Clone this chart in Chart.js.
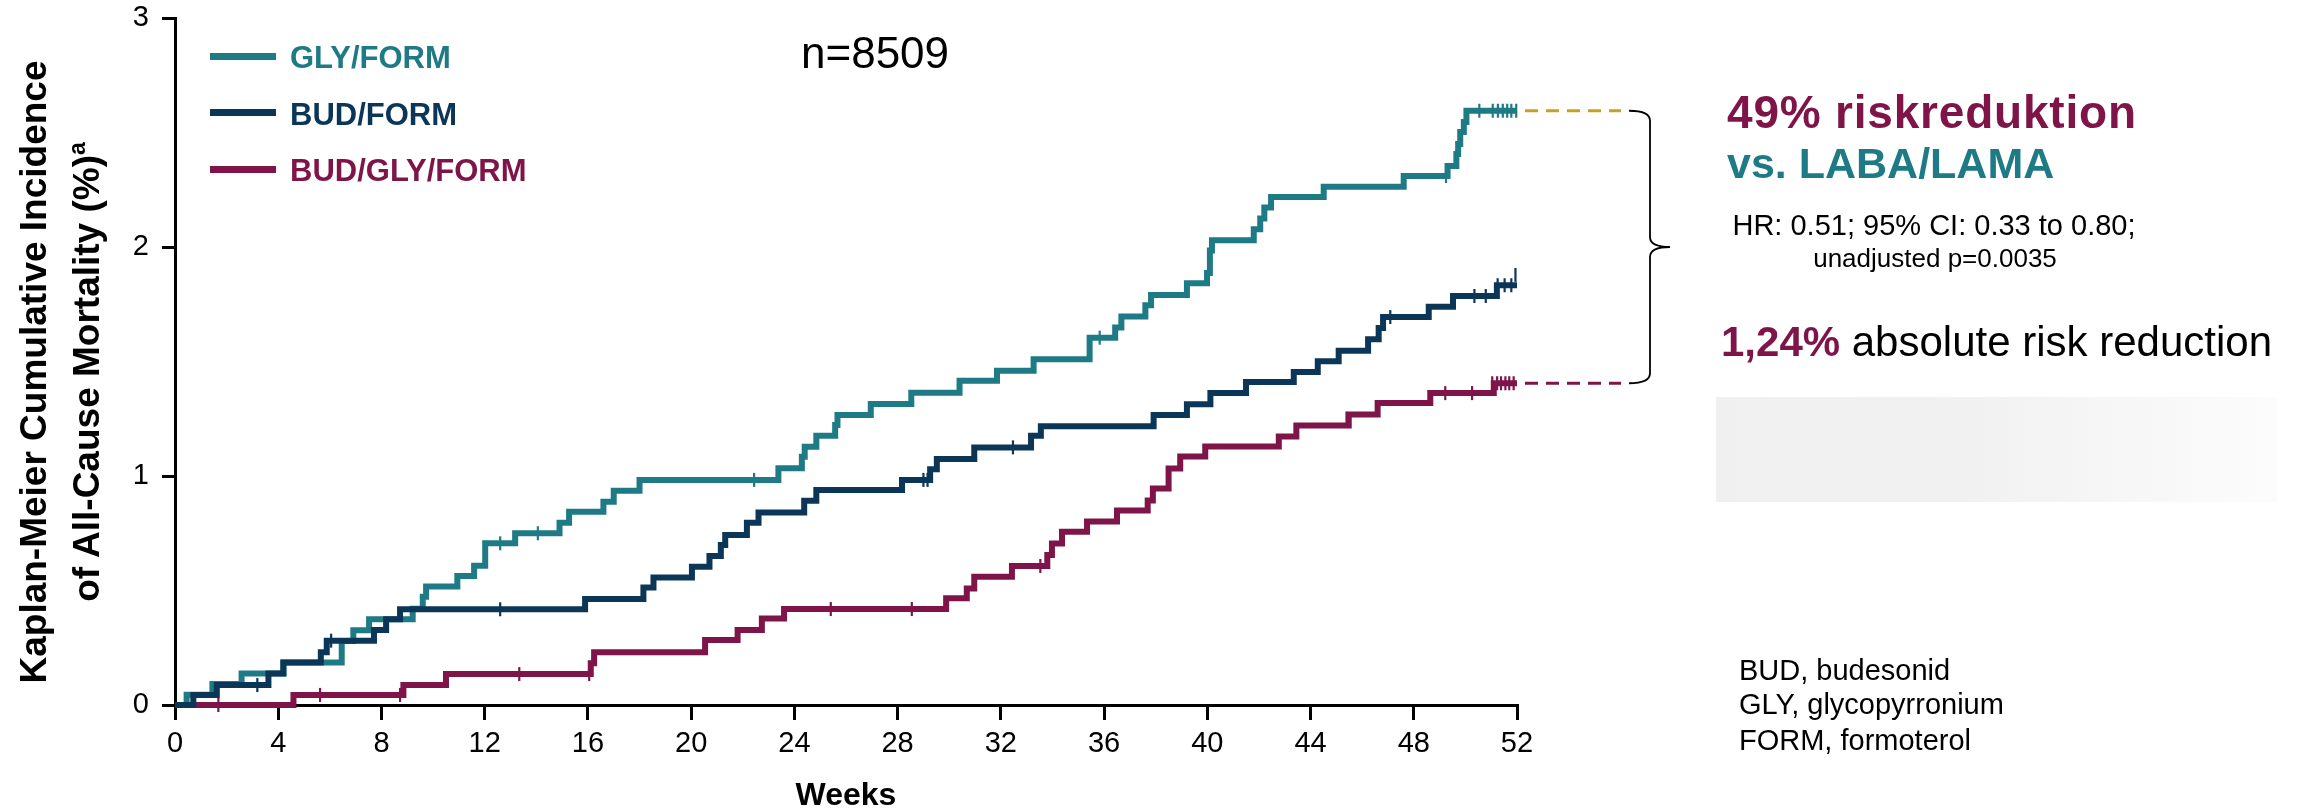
<!DOCTYPE html>
<html>
<head>
<meta charset="utf-8">
<script src="https://cdn.jsdelivr.net/npm/chart.js@4/dist/chart.umd.min.js"></script>
<style>
  html, body { margin:0; padding:0; background:#fff; }
  #wrap { position:relative; width:2310px; height:812px; overflow:hidden; font-family:'Liberation Sans', Arial, sans-serif; }
  #c { position:absolute; left:0; top:0; }
  .t { position:absolute; white-space:nowrap; line-height:1; }
  .leg { position:absolute; height:7px; }
  #ytitle { position:absolute; left:-320px; top:319px; width:760px; height:106px; line-height:53px; font-size:37px; font-weight:bold; text-align:center; transform:rotate(-90deg); color:#000; white-space:nowrap; }
  #ytitle sup { font-size:23px; line-height:0; vertical-align:0.6em; }
  #grad { position:absolute; left:1716px; top:397px; width:561px; height:105px; background:linear-gradient(to right, #f0f0f0 0%, #f1f1f1 45%, #fcfcfc 100%); }
</style>
</head>
<body>
<div id="wrap">
  <canvas id="c" width="2310" height="812"></canvas>

  <div id="ytitle">Kaplan-Meier Cumulative Incidence<br>of All-Cause Mortality (%)<sup>a</sup></div>

  <div class="leg" style="left:210px; top:52.5px; width:66px; background:#1e7b86;"></div>
  <div class="leg" style="left:210px; top:109px; width:66px; background:#0c3658;"></div>
  <div class="leg" style="left:210px; top:165.5px; width:66px; background:#7e1447;"></div>
  <div class="t" style="left:290px; top:41.8px; font-size:31px; font-weight:bold; color:#1e7b86;">GLY/FORM</div>
  <div class="t" style="left:290px; top:98.8px; font-size:31px; font-weight:bold; color:#0c3658;">BUD/FORM</div>
  <div class="t" style="left:290px; top:155.3px; font-size:31px; font-weight:bold; color:#7e1447;">BUD/GLY/FORM</div>

  <div class="t" style="left:801px; top:30.8px; font-size:44px; color:#000;">n=8509</div>

  <div class="t" style="left:1727px; top:89.1px; font-size:46px; font-weight:bold; letter-spacing:0.8px; color:#7e1447;">49% riskreduktion</div>
  <div class="t" style="left:1727px; top:141.6px; font-size:43px; font-weight:bold; color:#1e7b86;">vs. LABA/LAMA</div>
  <div class="t" style="left:1534px; width:800px; text-align:center; top:210.5px; font-size:29px; color:#000;">HR: 0.51; 95% CI: 0.33 to 0.80;</div>
  <div class="t" style="left:1535px; width:800px; text-align:center; top:245px; font-size:26px; color:#000;">unadjusted p=0.0035</div>
  <div class="t" style="left:1721px; top:321.4px; font-size:42px; color:#000;"><span style="font-weight:bold; color:#7e1447;">1,24%</span> absolute risk reduction</div>
  <div id="grad"></div>
  <div class="t" style="left:1739px; top:655.5px; font-size:29px; color:#000;">BUD, budesonid</div>
  <div class="t" style="left:1739px; top:690px; font-size:29px; color:#000;">GLY, glycopyrronium</div>
  <div class="t" style="left:1739px; top:725.5px; font-size:29px; color:#000;">FORM, formoterol</div>
</div>
<script>
// ---- Data ----
const seriesNames = ['GLY/FORM', 'BUD/FORM', 'BUD/GLY/FORM'];
const weekTicks = [0, 4, 8, 12, 16, 20, 24, 28, 32, 36, 40, 44, 48, 52];
const riskTicks = [0, 1, 2, 3];

const glyFormWeeks = [0, 0.45, 1.45, 2.58, 4.2, 6.46, 6.91, 7.52, 9.21, 9.6, 9.73, 10.94, 11.59, 12.02, 13.18, 14.9, 15.27, 16.6, 17.0, 18.0, 23.38, 24.29, 24.4, 24.85, 25.58, 25.67, 26.96, 28.53, 30.4, 31.85, 33.27, 35.44, 36.43, 36.67, 37.6, 37.82, 39.21, 39.99, 40.1, 40.18, 41.8, 42.05, 42.21, 42.47, 44.51, 47.61, 49.31, 49.65, 49.72, 49.8, 49.94, 50.04, 52];
const glyFormRisk  = [0, 0.045, 0.092, 0.138, 0.186, 0.28, 0.326, 0.375, 0.42, 0.473, 0.517, 0.563, 0.608, 0.706, 0.75, 0.796, 0.844, 0.888, 0.936, 0.983, 1.034, 1.084, 1.128, 1.176, 1.223, 1.266, 1.314, 1.364, 1.416, 1.46, 1.51, 1.604, 1.648, 1.697, 1.746, 1.79, 1.842, 1.886, 1.985, 2.029, 2.078, 2.125, 2.172, 2.218, 2.263, 2.31, 2.354, 2.406, 2.45, 2.502, 2.546, 2.595, 2.595];

const budFormWeeks = [0, 0.71, 1.62, 3.62, 4.2, 5.65, 5.88, 7.71, 8.18, 8.72, 15.89, 18.15, 18.54, 20.03, 20.71, 21.15, 21.32, 22.16, 22.61, 24.38, 24.85, 28.17, 29.26, 29.52, 30.97, 33.17, 33.55, 37.92, 39.21, 40.12, 41.5, 43.35, 44.28, 45.09, 46.23, 46.64, 46.81, 48.58, 49.52, 51.22, 52];
const budFormRisk  = [0, 0.044, 0.087, 0.138, 0.186, 0.23, 0.281, 0.328, 0.375, 0.418, 0.463, 0.513, 0.557, 0.604, 0.651, 0.699, 0.742, 0.796, 0.841, 0.892, 0.939, 0.983, 1.03, 1.074, 1.125, 1.176, 1.217, 1.266, 1.313, 1.362, 1.41, 1.454, 1.501, 1.547, 1.597, 1.646, 1.694, 1.739, 1.786, 1.833, 1.833];

const budGlyFormWeeks = [0, 4.59, 8.85, 10.5, 16.11, 16.24, 20.54, 21.8, 22.74, 23.6, 29.88, 30.68, 30.97, 32.43, 33.8, 33.98, 34.37, 35.34, 36.5, 37.69, 37.89, 38.5, 38.95, 39.92, 42.77, 43.45, 45.48, 46.6, 48.64, 51.1, 52];
const budGlyFormRisk  = [0, 0.044, 0.087, 0.135, 0.182, 0.23, 0.284, 0.328, 0.378, 0.419, 0.466, 0.509, 0.56, 0.607, 0.655, 0.705, 0.757, 0.801, 0.849, 0.893, 0.945, 1.033, 1.085, 1.129, 1.173, 1.221, 1.269, 1.319, 1.362, 1.405, 1.405];

// censored observations (tick marks)
const glyFormCensorWeeks = [12.6, 14.06, 22.44, 35.83, 49.25, 50.54, 51.06, 51.26, 51.45, 51.62, 51.78, 51.97];
const glyFormCensorRisk  = [0.706, 0.75, 0.983, 1.604, 2.31, 2.595, 2.595, 2.595, 2.595, 2.595, 2.595, 2.595];
const budFormCensorWeeks = [3.19, 6.05, 12.6, 29.0, 29.16, 32.47, 47.09, 50.35, 50.79, 51.25, 51.52, 51.78, 51.94];
const budFormCensorRisk  = [0.087, 0.281, 0.418, 0.983, 0.983, 1.125, 1.694, 1.786, 1.786, 1.833, 1.833, 1.833, 1.878];
const budGlyFormCensorWeeks = [1.68, 5.62, 8.72, 13.34, 16.05, 25.41, 28.55, 33.53, 45.4, 49.22, 50.26, 51.04, 51.23, 51.38, 51.55, 51.7, 51.87];
const budGlyFormCensorRisk  = [0, 0.044, 0.044, 0.135, 0.135, 0.419, 0.419, 0.607, 1.25, 1.362, 1.362, 1.405, 1.405, 1.405, 1.405, 1.405, 1.405];

// ---- Styles ----
const TEAL = '#1e7b86', NAVY = '#0c3658', MAGENTA = '#7e1447', GOLD = '#c9a024';

const pts = (xs, ys) => xs.map((x, i) => ({x, y: ys[i]}));

function stepSet(label, xs, ys, color, order) {
  return { label, data: pts(xs, ys), borderColor: color, backgroundColor: color, borderWidth: 6,
           stepped: 'before', pointRadius: 0, fill: false, order, clip: false,
           borderCapStyle: 'butt', borderJoinStyle: 'miter' };
}
function censorSet(label, xs, ys, color) {
  return { label, data: pts(xs, ys), showLine: false, borderColor: color, backgroundColor: color,
           pointStyle: 'line', rotation: 90, pointRadius: 7, pointBorderWidth: 2.2, pointHoverRadius: 7,
           order: 0, clip: false };
}

const bracePlugin = {
  id: 'brace',
  afterDatasetsDraw(chart) {
    const {ctx, scales: {x, y}} = chart;
    const xe = x.getPixelForValue(weekTicks[weekTicks.length - 1]);
    const yT = y.getPixelForValue(glyFormRisk[glyFormRisk.length - 1]);
    const yB = y.getPixelForValue(budGlyFormRisk[budGlyFormRisk.length - 1]);
    ctx.save();
    ctx.lineWidth = 3;
    ctx.setLineDash([13, 8]);
    ctx.strokeStyle = GOLD;
    ctx.beginPath(); ctx.moveTo(xe + 8, yT); ctx.lineTo(xe + 104, yT); ctx.stroke();
    ctx.strokeStyle = MAGENTA;
    ctx.beginPath(); ctx.moveTo(xe + 8, yB); ctx.lineTo(xe + 104, yB); ctx.stroke();
    ctx.setLineDash([]);
    const left = xe + 112, bx = xe + 133, tip = xe + 153, ym = (yT + yB) / 2;
    ctx.strokeStyle = '#000';
    ctx.lineWidth = 1.8;
    ctx.beginPath();
    ctx.moveTo(left, yT);
    ctx.quadraticCurveTo(bx, yT, bx, yT + 10);
    ctx.lineTo(bx, ym - 10);
    ctx.quadraticCurveTo(bx, ym, tip, ym);
    ctx.quadraticCurveTo(bx, ym, bx, ym + 10);
    ctx.lineTo(bx, yB - 10);
    ctx.quadraticCurveTo(bx, yB, left, yB);
    ctx.stroke();
    ctx.restore();
  }
};

const FONT = "'Liberation Sans', Arial, sans-serif";

new Chart(document.getElementById('c'), {
  type: 'line',
  data: {
    datasets: [
      stepSet(seriesNames[1], budFormWeeks, budFormRisk, NAVY, 1),
      stepSet(seriesNames[2], budGlyFormWeeks, budGlyFormRisk, MAGENTA, 2),
      stepSet(seriesNames[0], glyFormWeeks, glyFormRisk, TEAL, 3),
      censorSet(seriesNames[0] + ' censored', glyFormCensorWeeks, glyFormCensorRisk, TEAL),
      censorSet(seriesNames[1] + ' censored', budFormCensorWeeks, budFormCensorRisk, NAVY),
      censorSet(seriesNames[2] + ' censored', budGlyFormCensorWeeks, budGlyFormCensorRisk, MAGENTA)
    ]
  },
  options: {
    responsive: false,
    animation: false,
    events: [],
    layout: { padding: { left: 0, top: 18, right: 793, bottom: 0 } },
    plugins: { legend: { display: false }, tooltip: { enabled: false } },
    scales: {
      x: {
        type: 'linear', min: 0, max: 52,
        afterBuildTicks: s => { s.ticks = weekTicks.map(v => ({ value: v })); },
        afterFit: s => { s.height = 107; },
        ticks: { color: '#000', font: { family: FONT, size: 29, lineHeight: 1.2 }, padding: 7, maxRotation: 0, autoSkip: false },
        grid: { drawOnChartArea: false, drawTicks: true, tickLength: 15, tickWidth: 3, tickColor: '#000', color: '#000', lineWidth: 3 },
        border: { display: true, color: '#000', width: 3 },
        title: { display: true, text: 'Weeks', color: '#000', font: { family: FONT, size: 32, weight: 'bold', lineHeight: 1 }, padding: { top: 0, bottom: 0 } }
      },
      y: {
        type: 'linear', min: 0, max: 3,
        afterBuildTicks: s => { s.ticks = riskTicks.map(v => ({ value: v })); },
        afterFit: s => { s.width = 175; s.paddingTop = 0; s.paddingBottom = 0; },
        ticks: { color: '#000', font: { family: FONT, size: 29, lineHeight: 0.6 }, padding: 13 },
        grid: { drawOnChartArea: false, drawTicks: true, tickLength: 13, tickWidth: 3, tickColor: '#000', color: '#000', lineWidth: 3 },
        border: { display: true, color: '#000', width: 3 },
        title: { display: false }
      }
    }
  },
  plugins: [bracePlugin]
});
</script>
</body>
</html>
